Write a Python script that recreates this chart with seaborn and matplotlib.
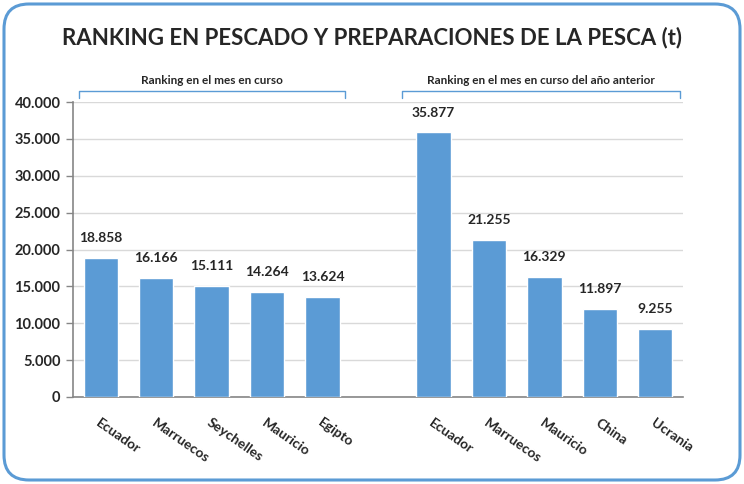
import numpy as np
import pandas as pd
import matplotlib.pyplot as plt
import seaborn as sns
from matplotlib.patches import FancyBboxPatch
from matplotlib.transforms import blended_transform_factory

# Data
paises_actual = ['Ecuador', 'Marruecos', 'Seychelles', 'Mauricio', 'Egipto']
valores_actual = [18858, 16166, 15111, 14264, 13624]
paises_anterior = ['Ecuador', 'Marruecos', 'Mauricio', 'China', 'Ucrania']
valores_anterior = [35877, 21255, 16329, 11897, 9255]
titulo = 'RANKING EN PESCADO Y PREPARACIONES DE LA PESCA (t)'
grupo_actual = 'Ranking en el mes en curso'
grupo_anterior = 'Ranking en el mes en curso del año anterior'

# One empty slot between the two groups
etiquetas = paises_actual + [''] + paises_anterior
valores = valores_actual + [np.nan] + valores_anterior
df = pd.DataFrame({'slot': list(range(len(etiquetas))), 'valor': valores})
df = df.dropna()

sns.set_style('white')
plt.rcParams['font.family'] = ['Lato', 'DejaVu Sans']

fig = plt.figure(figsize=(7.44, 4.84), dpi=100)
ax = fig.add_axes([73 / 744, 1 - 397 / 484, 610 / 744, 295 / 484])

sns.barplot(data=df, x='slot', y='valor', order=list(range(len(etiquetas))),
            color='#5B9BD5', saturation=1, width=0.62, ax=ax, zorder=3)

ax.set_ylim(0, 40000)
ax.set_xlim(-0.5, len(etiquetas) - 0.5)
ax.set_yticks(np.arange(0, 40001, 5000))
ax.set_yticklabels([f'{int(v):,}'.replace(',', '.') for v in np.arange(0, 40001, 5000)],
                   fontsize=10.5, fontweight='bold')
ax.yaxis.grid(True, color='#D9D9D9', linewidth=1, zorder=0)
ax.set_xlabel('')
ax.set_ylabel('')

# x ticks: labels at centres, tick marks at boundaries
ax.set_xticks(range(len(etiquetas)))
ax.set_xticklabels(etiquetas, rotation=-35, ha='left', rotation_mode='anchor',
                   fontsize=10, fontweight='bold')
ax.tick_params(axis='x', which='major', length=0, pad=14)
ax.set_xticks(np.arange(-0.5, len(etiquetas), 1), minor=True)
ax.tick_params(axis='x', which='minor', length=5, color='#868686', width=1)
ax.tick_params(axis='y', length=5, color='#868686', width=1, left=True, pad=4)

for s in ['top', 'right']:
    ax.spines[s].set_visible(False)
for s in ['left', 'bottom']:
    ax.spines[s].set_color('#868686')
    ax.spines[s].set_linewidth(1.2)

# Value labels
for x, v in zip(df['slot'], df['valor']):
    ax.annotate(f'{int(v):,}'.replace(',', '.'), (x, v), xytext=(0, 10),
                textcoords='offset points', ha='center', va='bottom',
                fontsize=10, fontweight='bold')

# Group brackets
tr = blended_transform_factory(ax.transData, ax.transAxes)
for x0, x1, txt in [(-0.39, 4.4, grupo_actual), (5.43, 10.45, grupo_anterior)]:
    ax.plot([x0, x0, x1, x1], [1.013, 1.037, 1.037, 1.013], color='#5B9BD5',
            lw=1, transform=tr, clip_on=False)
    ax.text((x0 + x1) / 2, 1.053, txt, transform=tr, ha='center', va='bottom',
            fontsize=8.5, fontweight='bold')

fig.text(0.5, 1 - 38 / 484, titulo, ha='center', va='center',
         fontsize=16, fontweight='bold')

# Rounded border around the chart
borde = FancyBboxPatch((4, 4), 736, 476, boxstyle='round,pad=0,rounding_size=25',
                       transform=None, facecolor='none', edgecolor='#5B9BD5',
                       linewidth=2.2)
fig.patches.append(borde)

fig.savefig('out.png', dpi=100)
